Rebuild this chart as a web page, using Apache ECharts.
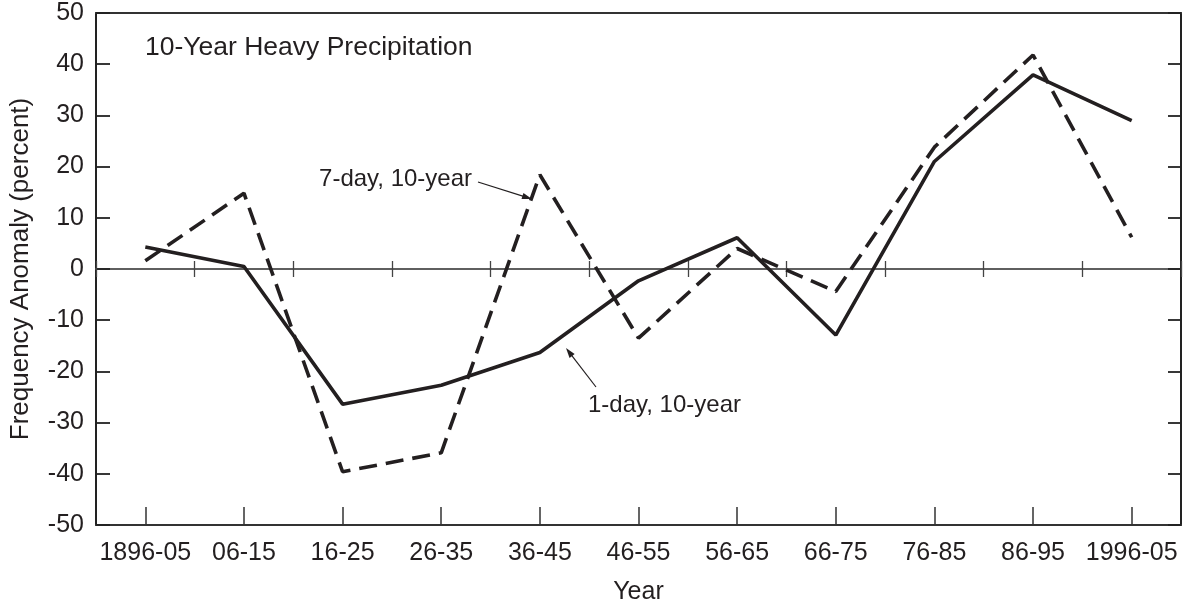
<!DOCTYPE html>
<html>
<head>
<meta charset="utf-8">
<script src="https://cdn.jsdelivr.net/npm/echarts@6/dist/echarts.min.js"></script>
<style>
html,body{margin:0;padding:0;background:#fff;}
#chart{width:1190px;height:603px;}
</style>
</head>
<body>
<div id="chart"></div>
<script>
const categories = ['1896-05','06-15','16-25','26-35','36-45','46-55','56-65','66-75','76-85','86-95','1996-05'];
const oneDay = [4.3, 0.5, -26.4, -22.7, -16.3, -2.3, 6.1, -12.9, 21.0, 37.9, 29.0];
const sevenDay = [1.6, 14.8, -39.6, -35.9, 18.4, -13.5, 4.0, -4.4, 23.8, 41.8, 6.2];
const yTicks = [-50, -40, -30, -20, -10, 0, 10, 20, 30, 40, 50];

const INK = '#231f20';
const FONT = '"Liberation Sans", Arial, Helvetica, sans-serif';

function arrow(x1, y1, x2, y2) {
  const dx = x2 - x1, dy = y2 - y1;
  const len = Math.sqrt(dx*dx + dy*dy);
  const ux = dx/len, uy = dy/len;
  const hl = 10, hw = 3.2;
  const bx = x2 - hl*ux, by = y2 - hl*uy;
  const px = -uy*hw, py = ux*hw;
  return [
    {type:'line', shape:{x1:x1, y1:y1, x2:bx + ux*2, y2:by + uy*2}, style:{stroke:INK, lineWidth:1.2}, z:100},
    {type:'polygon', shape:{points:[[x2,y2],[bx+px,by+py],[bx-px,by-py]]}, style:{fill:INK}, z:100}
  ];
}

const chart = echarts.init(document.getElementById('chart'));
const baseCat = {type:'category', data:categories, boundaryGap:true, gridIndex:0};

chart.setOption({
  backgroundColor:'#ffffff',
  animation:false,
  textStyle:{fontFamily:FONT, color:INK},
  grid:{left:96, right:9, top:13, bottom:78, containLabel:false, outerBoundsMode:'none'},
  xAxis:[
    Object.assign({}, baseCat, {
      position:'bottom',
      axisLine:{show:true, onZero:false, lineStyle:{color:'#333', width:2}},
      axisTick:{show:true, inside:true, alignWithLabel:true, length:18, interval:0, lineStyle:{color:'#333', width:1.5}},
      axisLabel:{show:true, interval:0, fontSize:25, color:INK, margin:16, fontFamily:FONT},
      splitLine:{show:false},
      name:'Year', nameLocation:'middle', nameGap:55,
      nameTextStyle:{fontSize:25, color:INK, fontFamily:FONT}
    }),
    Object.assign({}, baseCat, {
      position:'bottom',
      axisLine:{show:true, onZero:true, onZeroAxisIndex:0, lineStyle:{color:'#555', width:1.5}},
      axisTick:{show:true, inside:true, alignWithLabel:false, length:8, interval:0, lineStyle:{color:'#444', width:1.3}},
      axisLabel:{show:false}, splitLine:{show:false}
    }),
    Object.assign({}, baseCat, {
      position:'bottom',
      axisLine:{show:true, onZero:true, onZeroAxisIndex:0, lineStyle:{color:'#555', width:1.5}},
      axisTick:{show:true, inside:false, alignWithLabel:false, length:8, interval:0, lineStyle:{color:'#444', width:1.3}},
      axisLabel:{show:false}, splitLine:{show:false}
    }),
    Object.assign({}, baseCat, {
      position:'top',
      axisLine:{show:true, onZero:false, lineStyle:{color:'#333', width:2}},
      axisTick:{show:false}, axisLabel:{show:false}, splitLine:{show:false}
    })
  ],
  yAxis:[
    {
      type:'value', position:'left', min:yTicks[0], max:yTicks[yTicks.length-1], interval:10,
      axisLine:{show:true, onZero:false, lineStyle:{color:'#222', width:2}},
      axisTick:{show:true, inside:true, length:14, lineStyle:{color:'#222', width:1.8}},
      axisLabel:{fontSize:25, color:INK, margin:12, fontFamily:FONT},
      splitLine:{show:false},
      name:'Frequency Anomaly (percent)', nameLocation:'middle', nameGap:62,
      nameTextStyle:{fontSize:26, color:INK, fontFamily:FONT}
    },
    {
      type:'value', position:'right', min:yTicks[0], max:yTicks[yTicks.length-1], interval:10,
      axisLine:{show:true, onZero:false, lineStyle:{color:'#222', width:2}},
      axisTick:{show:true, inside:true, length:13, lineStyle:{color:'#222', width:1.8}},
      axisLabel:{show:false}, splitLine:{show:false}
    }
  ],
  series:[
    {
      name:'1-day, 10-year', type:'line', xAxisIndex:0, yAxisIndex:0, data:oneDay,
      symbol:'none', lineStyle:{color:INK, width:3.6, type:'solid'}, z:5
    },
    {
      name:'7-day, 10-year', type:'line', xAxisIndex:0, yAxisIndex:0, data:sevenDay,
      symbol:'none', lineStyle:{color:INK, width:3.6, type:[18, 9], cap:'butt'}, z:4
    }
  ],
  graphic:[
    {type:'text', x:145, y:48, style:{text:'10-Year Heavy Precipitation', font:'26.5px ' + FONT, fill:INK, textAlign:'left', textVerticalAlign:'middle'}, z:100},
    {type:'text', x:472, y:179, style:{text:'7-day, 10-year', font:'24px ' + FONT, fill:INK, textAlign:'right', textVerticalAlign:'middle'}, z:100},
    {type:'text', x:588, y:405, style:{text:'1-day, 10-year', font:'24px ' + FONT, fill:INK, textAlign:'left', textVerticalAlign:'middle'}, z:100}
  ].concat(arrow(478, 182, 532, 199)).concat(arrow(596, 387, 566, 348))
});
</script>
</body>
</html>
